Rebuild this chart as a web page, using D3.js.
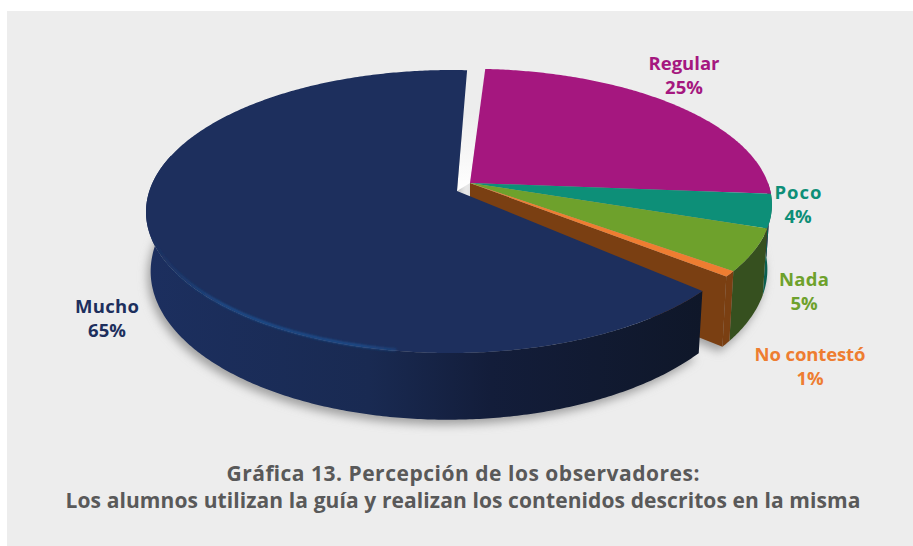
<!DOCTYPE html>
<html><head><meta charset="utf-8">
<script src="https://cdn.jsdelivr.net/npm/d3@7/dist/d3.min.js"></script>
<style>html,body{margin:0;padding:0;background:#fff}svg{display:block}</style>
</head><body><div id="c"></div>
<script>
const categories = ["Regular","Poco","Nada","No contestó","Mucho"];
const values = [25,4,5,1,65];
const topColors = ["#a5177f","#0d8f78","#6ea12c","#ee7d31","#1d2f5d"];
const sideColors = ["#6d0f55","#0a5f50","#36501f","#7a3f12","url(#sideG)"];
const labelPct = ["25%","4%","5%","1%","65%"];
const titleLines = ["Gráfica 13. Percepción de los observadores:","Los alumnos utilizan la guía y realizan los contenidos descritos en la misma"];

const W=913,H=546;
const svg=d3.select("#c").append("svg").attr("width",W).attr("height",H);
const defs=svg.append("defs");
const g1=defs.append("linearGradient").attr("id","sideG");
[[0,"#1c2f5f"],[.4,"#192a52"],[.62,"#131d3a"],[1,"#0f1729"]].forEach(d=>g1.append("stop").attr("offset",d[0]).attr("stop-color",d[1]));
const g2=defs.append("linearGradient").attr("id","gapG").attr("x1",0).attr("y1",0).attr("x2",0).attr("y2",1);
g2.append("stop").attr("offset",.3).attr("stop-color","#ededed");
g2.append("stop").attr("offset",1).attr("stop-color","#ffffff");
const g3=defs.append("linearGradient").attr("id","hiG").attr("gradientUnits","userSpaceOnUse").attr("x1",150).attr("x2",450).attr("y1",0).attr("y2",0);
[[0,0],[.25,1],[.7,1],[1,0]].forEach(d=>g3.append("stop").attr("offset",d[0]).attr("stop-color","#1f4f8f").attr("stop-opacity",d[1]));
defs.append("filter").attr("id","blur").attr("x","-10%").attr("y","-10%").attr("width","120%").attr("height","130%").append("feGaussianBlur").attr("stdDeviation",5);
defs.append("filter").attr("id","blur2").attr("x","-10%").attr("y","-10%").attr("width","120%").attr("height","120%").append("feGaussianBlur").attr("stdDeviation",1.2);

svg.append("rect").attr("x",7).attr("y",11).attr("width",W-7).attr("height",H-11).attr("fill","#ededed");

const deg=Math.PI/180, rot=4.6*deg;
const pie=d3.pie().sort(null).value(d=>d).startAngle(rot).endAngle(rot+2*Math.PI);
const arcs=pie(values);

// perspective projection of the unit disc
const groupA={cx:470,cy:183,R:298,S:132.5,p:.16,q:0,D:63,shrink:.985};
const groupB={cx:457,cy:191,R:301.5,S:138.5,p:.145,q:-.02,D:57,shrink:.985};
function proj(g,a,r,low){
  const u=r*Math.sin(a),v=-r*Math.cos(a),d=1-g.p*v-g.q*u;
  const k=low?g.shrink:1;
  return [g.cx+g.R*k*u/d, g.cy+(g.S*v+(low?g.D:0))/d];
}
const line=d3.line();
const rimAngles=(a,b)=>{const n=Math.max(2,Math.ceil((b-a)/.01));return d3.range(n+1).map(i=>a+(b-a)*i/n)};
const topPath=(g,a,b)=>line([proj(g,0,0)].concat(rimAngles(a,b).map(x=>proj(g,x,1))))+"Z";
const lowPath=(g,a,b)=>line([proj(g,0,0,true)].concat(rimAngles(a,b).map(x=>proj(g,x,1,true))))+"Z";
const sidePath=(g,a,b)=>{const t=rimAngles(a,b);return line(t.map(x=>proj(g,x,1)).concat(t.slice().reverse().map(x=>proj(g,x,1,true))))+"Z"};
const wallPath=(g,a)=>line([proj(g,0,0),proj(g,a,1),proj(g,a,1,true),proj(g,0,0,true)])+"Z";

const right=arcs.slice(0,4), mucho=arcs[4];
const muchoStart=mucho.startAngle+1*deg, muchoEnd=mucho.endAngle-2.4*deg;
// the picture draws the first slice slightly wider and the thin orange one narrower than their share
const shownStart=i=>right[i].startAngle-(i===0?1.2*deg:0);
const shownEnd=i=>right[i].endAngle-(i===3?1.2*deg:0);

// soft shadow
const sh=svg.append("g").attr("filter","url(#blur)").attr("fill","#a0a0a0").attr("transform","translate(-3,5)");
right.forEach((s,i)=>sh.append("path").attr("d",lowPath(groupA,shownStart(i),shownEnd(i))));
sh.append("path").attr("d",lowPath(groupB,muchoStart,muchoEnd));

// light gap between the exploded slice and the rest
svg.append("path").attr("d",line([proj(groupA,shownStart(0),.9),proj(groupA,0,0),proj(groupB,0,0),proj(groupB,muchoEnd,.55)])+"Z").attr("fill","url(#gapG)");

// right group: rim walls, cut wall, top faces
right.forEach((s,i)=>{ if(shownEnd(i)>90*deg) svg.append("path").attr("d",sidePath(groupA,Math.max(shownStart(i),90*deg),shownEnd(i))).attr("fill",sideColors[i]); });
svg.append("path").attr("d",wallPath(groupA,shownEnd(3))).attr("fill",sideColors[3]);
svg.selectAll("path.t").data(right).enter().append("path").attr("class","t").attr("d",(s,i)=>topPath(groupA,shownStart(i),shownEnd(i))).attr("fill",(s,i)=>topColors[i]);

// big slice: rim wall, top face, soft highlight
svg.append("path").attr("d",sidePath(groupB,muchoStart,285*deg)).attr("fill","url(#sideG)");
svg.append("path").attr("d",topPath(groupB,muchoStart,muchoEnd)).attr("fill",topColors[4]);
svg.append("path").attr("d",line(rimAngles(190*deg,255*deg).map(a=>proj(groupB,a,.995)))).attr("fill","none").attr("stroke","url(#hiG)").attr("stroke-width",2.5).attr("filter","url(#blur2)");

// labels
const labelFont='"Open Sans", sans-serif';
const labelPos=[[684,70],[798,199],[804,286],[810,361],[107,313]];
const labelLen=[71,47,50,111,64];
categories.forEach((c,i)=>{
  const t=svg.append("text").attr("text-anchor","middle").attr("font-family",labelFont).attr("font-weight",700).attr("font-size",18.5).attr("fill",topColors[i]);
  t.append("tspan").attr("x",labelPos[i][0]).attr("y",labelPos[i][1]).attr("textLength",labelLen[i]).text(c);
  t.append("tspan").attr("x",labelPos[i][0]).attr("y",labelPos[i][1]+24).text(labelPct[i]);
});
const titleLen=[473,795];
titleLines.forEach((s,i)=>svg.append("text").attr("x",463).attr("y",481+i*27).attr("text-anchor","middle").attr("font-family",labelFont).attr("font-weight",700).attr("font-size",21).attr("textLength",titleLen[i]).attr("fill","#595959").text(s));
</script></body></html>
